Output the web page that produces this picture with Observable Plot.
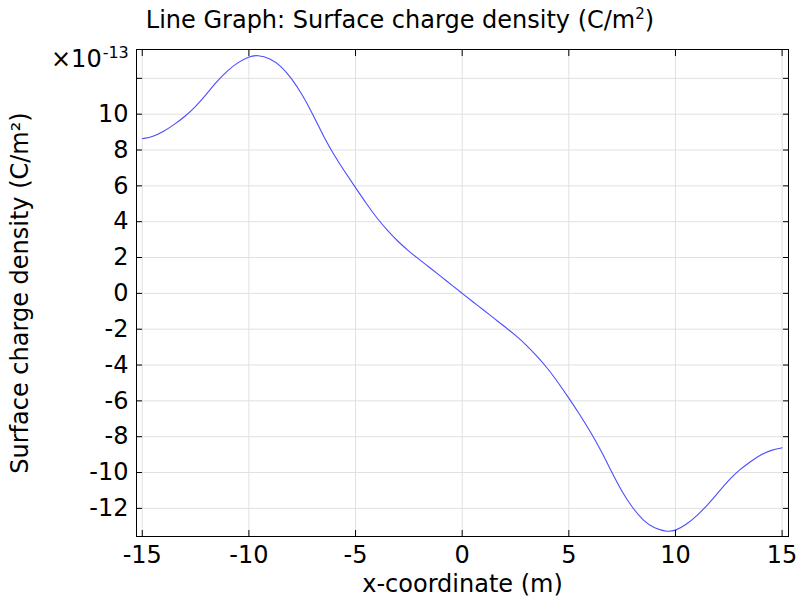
<!DOCTYPE html>
<html>
<head>
<meta charset="utf-8">
<script src="https://cdn.jsdelivr.net/npm/d3@7"></script>
<script src="https://cdn.jsdelivr.net/npm/@observablehq/plot@0.6"></script>
<style>
  body { margin: 0; background: white; }
  #wrap { position: relative; width: 800px; height: 600px; font-family: "DejaVu Sans", sans-serif; color: black; }
  #title { height: 40px; line-height: 40px; text-align: center; font-size: 24px; white-space: nowrap; }
  #title sup { font-size: 15px; line-height: 0; vertical-align: 9px; }
  #exp { position: absolute; left: 51px; top: 47px; font-size: 24px; line-height: 24px; white-space: nowrap; }
  #exp sup { font-size: 16px; line-height: 0; vertical-align: 9px; margin-left: 1px; }
  svg { display: block; }
</style>
</head>
<body>
<div id="wrap">
  <div id="title">Line Graph: Surface charge density (C/m<sup>2</sup>)</div>
  <div id="chart"></div>
  <div id="exp">×10<sup>-13</sup></div>
</div>
<script>
// x-coordinate (m)
const xs = [-15, -14.5, -14, -13.5, -13, -12.5, -12, -11.5, -11, -10.5, -10, -9.6, -9, -8.5, -8, -7.5, -7, -6.5, -6, -5.5, -5,
            -4.5, -4, -3.5, -3, -2.5, -2, -1.5, -1, -0.5, 0,
            0.5, 1, 1.5, 2, 2.5, 3, 3.5, 4, 4.5, 5, 5.5, 6, 6.5, 7, 7.5, 8, 8.5, 9, 9.65, 10,
            10.5, 11, 11.5, 12, 12.5, 13, 13.5, 14, 14.5, 15];
// surface charge density (x 1e-13 C/m^2)
const ys = [8.63, 8.74, 9.03, 9.42, 9.87, 10.42, 11.1, 11.83, 12.45, 12.9, 13.22, 13.31, 13.12, 12.7, 12.0, 11.1, 10.0, 8.75, 7.7, 6.78, 5.9,
            5.02, 4.2, 3.5, 2.88, 2.35, 1.88, 1.42, 0.95, 0.47, 0,
            -0.47, -0.93, -1.4, -1.86, -2.34, -2.87, -3.5, -4.17, -4.98, -5.84, -6.74, -7.7, -8.75, -9.95, -11.1, -12.0, -12.7, -13.12, -13.32, -13.24,
            -12.92, -12.42, -11.82, -11.12, -10.42, -9.85, -9.4, -9.0, -8.74, -8.62];
const xTicks = [-15, -10, -5, 0, 5, 10, 15];
const yTicks = [-12, -10, -8, -6, -4, -2, 0, 2, 4, 6, 8, 10, 12];
const yLabelled = [-12, -10, -8, -6, -4, -2, 0, 2, 4, 6, 8, 10];

const data = xs.map((x, i) => ({x, y: ys[i]}));
const fmt = d => String(d);
const none = () => "";

const chart = Plot.plot({
  width: 800,
  height: 560,
  marginTop: 9,
  marginBottom: 64,
  marginLeft: 136,
  marginRight: 12,
  style: {fontFamily: "DejaVu Sans", fontSize: "24px", color: "black", background: "white", overflow: "visible"},
  x: {domain: [-15.27, 15.3]},
  y: {domain: [-13.57, 13.61]},
  marks: [
    Plot.gridX(xTicks, {stroke: "#e0e0e0", strokeOpacity: 1}),
    Plot.gridY(yTicks, {stroke: "#e0e0e0", strokeOpacity: 1}),
    Plot.line(data, {x: "x", y: "y", stroke: "#4d4dff", strokeWidth: 1.1, curve: "basis"}),
    Plot.frame({stroke: "black", strokeWidth: 1}),
    // labels
    Plot.axisX(xTicks, {anchor: "bottom", tickSize: 0, tickPadding: 9, tickFormat: fmt, fontSize: 24,
      label: "x-coordinate (m)", labelAnchor: "center", labelOffset: 55, labelArrow: "none"}),
    Plot.axisY(yLabelled, {anchor: "left", tickSize: 0, tickPadding: 8, tickFormat: fmt, fontSize: 24,
      label: "Surface charge density (C/m²)", labelAnchor: "center", labelOffset: 126, labelArrow: "none"}),
    // inward tick marks on all four sides
    Plot.axisX(xTicks, {anchor: "bottom", tickSize: -6, tickFormat: none, label: null}),
    Plot.axisX(xTicks, {anchor: "top", tickSize: -6, tickFormat: none, label: null}),
    Plot.axisY(yTicks, {anchor: "left", tickSize: -6, tickFormat: none, label: null}),
    Plot.axisY(yTicks, {anchor: "right", tickSize: -6, tickFormat: none, label: null})
  ]
});
document.getElementById("chart").appendChild(chart);
</script>
</body>
</html>
